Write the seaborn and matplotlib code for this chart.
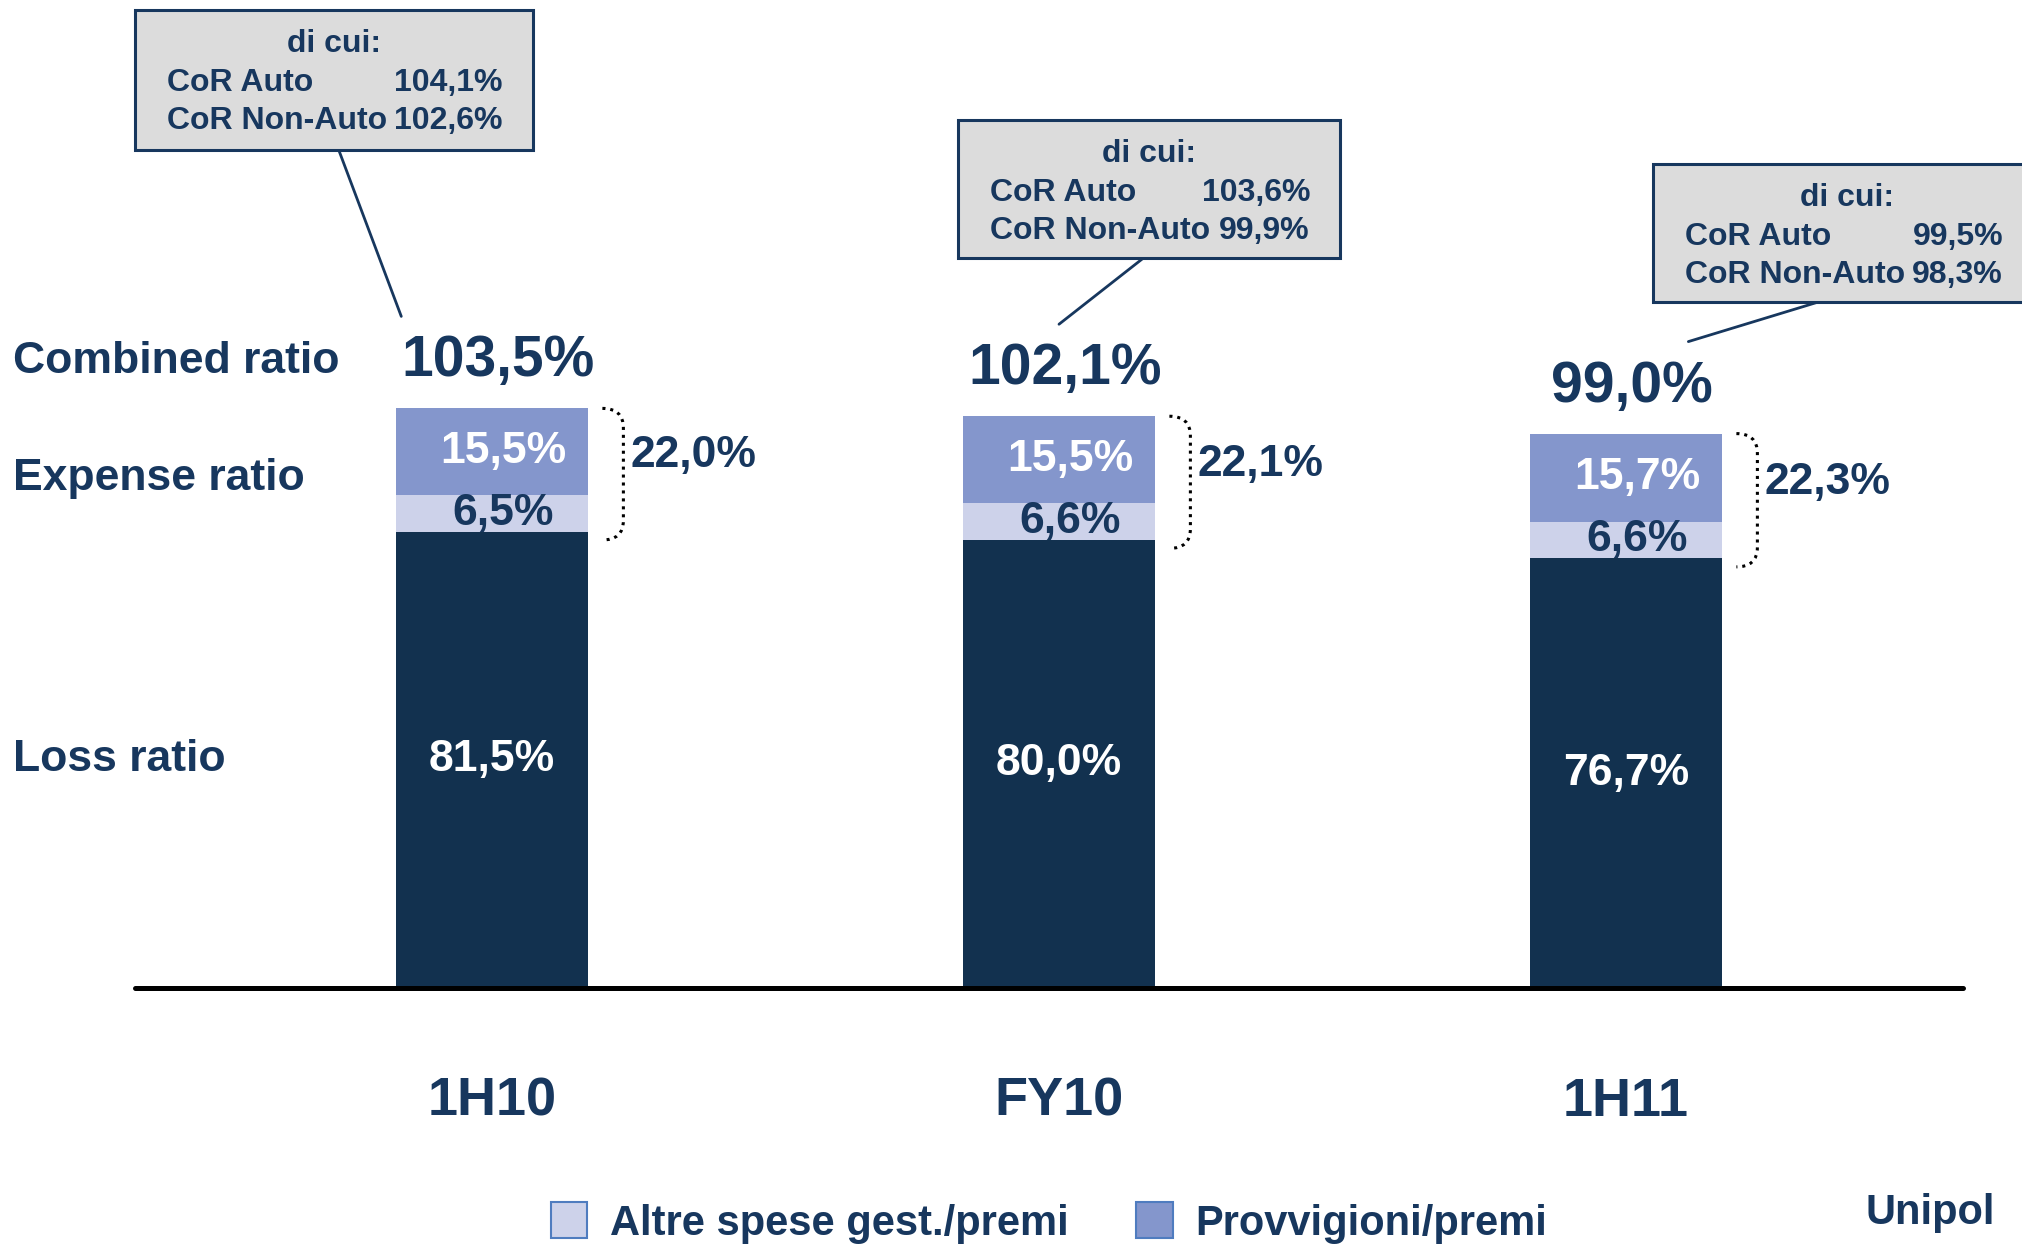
import matplotlib
matplotlib.use("Agg")
import pandas as pd
import matplotlib.pyplot as plt
from matplotlib.patches import Rectangle, Patch, PathPatch
from matplotlib.path import Path
from matplotlib.transforms import Affine2D
import seaborn as sns

# data
periods = ["1H10", "FY10", "1H11"]
loss_ratio = [81.5, 80.0, 76.7]
altre_spese = [6.5, 6.6, 6.6]
provvigioni = [15.5, 15.5, 15.7]
expense_ratio = [22.0, 22.1, 22.3]
combined_ratio = [103.5, 102.1, 99.0]
cor_auto = [104.1, 103.6, 99.5]
cor_non_auto = [102.6, 99.9, 98.3]
legend_labels = ["Altre spese gest./premi", "Provvigioni/premi"]
row_labels = ["Combined ratio", "Expense ratio", "Loss ratio"]

NAVY = "#12314f"
TXT = "#17375e"
PROVV = "#8496cc"
ALTRE = "#cdd2ea"
BOXFILL = "#dcdcdc"

W, H = 2022, 1244
X0, DX = 492, 567      # pixel of first bar centre, pixels per category
BASE, S = 988, 5.6     # baseline pixel, pixels per percentage point


def pct(v):
    return f"{v:.1f}".replace(".", ",") + "%"


def fx(px):
    return (px - X0) / DX


df = pd.DataFrame({"period": periods, "loss": loss_ratio,
                   "altre": altre_spese, "provv": provvigioni})
df["loss_altre"] = df["loss"] + df["altre"]
df["total"] = df["loss_altre"] + df["provv"]

sns.set_theme(style="white")
plt.rcParams["font.family"] = ["Liberation Sans", "DejaVu Sans"]
plt.rcParams["font.weight"] = "bold"

fig = plt.figure(figsize=(W / 100, H / 100), dpi=100)
ax = fig.add_axes([0, 1 - BASE / H, 1, BASE / H])
pxt = Affine2D().scale(1 / W, -1 / H).translate(0, 1) + fig.transFigure

# stacked bars drawn as overlapping cumulative bars
for col, c in [("total", PROVV), ("loss_altre", ALTRE), ("loss", NAVY)]:
    sns.barplot(data=df, x="period", y=col, color=c, width=0.34,
                saturation=1, errorbar=None, ax=ax, edgecolor="none")

ax.set_xlim(fx(0), fx(W))
ax.set_ylim(0, BASE / S)
ax.set_yticks([])
ax.set_xlabel("")
ax.set_ylabel("")
sns.despine(ax=ax, left=True, bottom=True)
ax.set_xticks(range(len(periods)))
ax.set_xticklabels(periods, fontsize=39, color=TXT, fontweight="bold")
ax.tick_params(axis="x", length=0, pad=64)
ax.axhline(0, xmin=135 / W, xmax=1963 / W, color="black", lw=3.6, clip_on=False)

half = 0.17
lab_off = 47 / S
for i in range(len(periods)):
    loss, alt, tot = loss_ratio[i], altre_spese[i], combined_ratio[i]
    ax.text(i, loss / 2, pct(loss), ha="center", va="center",
            color="white", fontsize=32)
    ax.text(i + 0.02, loss + alt / 2, pct(alt), ha="center", va="center",
            color=TXT, fontsize=32)
    ax.text(i + 0.02, loss + alt + provvigioni[i] / 2, pct(provvigioni[i]),
            ha="center", va="center", color="white", fontsize=32)
    ax.text(i + 0.01, tot + lab_off, pct(tot), ha="center", va="center",
            color=TXT, fontsize=41)

    # dotted bracket round the expense ratio
    xs = i + half + 14 / DX
    xv = i + half + 35 / DX
    yt, yb, r = tot, loss - 1.5, 3.5
    verts = [(xs, yt), (xv, yt), (xv, yt - r), (xv, yb + r),
             (xv, yb), (xs, yb)]
    codes = [Path.MOVETO, Path.CURVE3, Path.CURVE3, Path.LINETO,
             Path.CURVE3, Path.CURVE3]
    ax.add_patch(PathPatch(Path(verts, codes), fill=False, ec="black",
                           lw=2.2, ls=(0, (1, 1.6))))
    ax.text(i + half + 42 / DX, loss + expense_ratio[i] / 2 + 2.5,
            pct(expense_ratio[i]), ha="left", va="center",
            color=TXT, fontsize=32)

# row labels aligned with the first bar
ax.text(fx(13), combined_ratio[0] + lab_off, row_labels[0], ha="left",
        va="center", color=TXT, fontsize=32)
ax.text(fx(13), loss_ratio[0] + expense_ratio[0] / 2 - 1.5, row_labels[1],
        ha="left", va="center", color=TXT, fontsize=32)
ax.text(fx(13), loss_ratio[0] / 2, row_labels[2], ha="left",
        va="center", color=TXT, fontsize=32)

# callout boxes: (left, top, width, height, text-centre x, leader start, leader end x offset)
boxes = [
    (135, 10, 398, 140, 334, (338, 148), -0.16),
    (958, 120, 382, 138, 1149, (1146, 256), 0.0),
    (1653, 164, 380, 138, 1847, (1838, 296), 0.11),
]
for i, (bx, by, bw, bh, cx, start, dxe) in enumerate(boxes):
    fig.add_artist(Rectangle((bx, by), bw, bh, transform=pxt, fc=BOXFILL,
                             ec=TXT, lw=2.2))
    fig.text(cx, by + 34, "di cui:", transform=pxt, ha="center",
             va="center", color=TXT, fontsize=23)
    fig.text(bx + 32, by + 73, "CoR Auto", transform=pxt, ha="left",
             va="center", color=TXT, fontsize=23)
    fig.text(bx + bw - 30, by + 73, pct(cor_auto[i]), transform=pxt,
             ha="right", va="center", color=TXT, fontsize=23)
    fig.text(bx + 32, by + 111, "CoR Non-Auto", transform=pxt, ha="left",
             va="center", color=TXT, fontsize=23)
    fig.text(bx + bw - 30, by + 111, pct(cor_non_auto[i]), transform=pxt,
             ha="right", va="center", color=TXT, fontsize=23)
    ax.annotate("", xy=(i + dxe, combined_ratio[i] + lab_off + 45 / S),
                xycoords="data", xytext=start, textcoords=pxt,
                arrowprops=dict(arrowstyle="-", color=TXT, lw=2,
                                shrinkA=0, shrinkB=0))

handles = [Patch(fc=ALTRE, ec="#4f7cbf", lw=1.5),
           Patch(fc=PROVV, ec="#4f7cbf", lw=1.5)]
fig.legend(handles, legend_labels, loc="center left",
           bbox_to_anchor=(551 / W, 1 - 1223 / H), ncol=2, frameon=False,
           fontsize=30, labelcolor=TXT, handlelength=0.87, handleheight=0.93,
           handletextpad=0.55, columnspacing=1.62, borderpad=0,
           borderaxespad=0)

fig.text(1866, 1193, "Unipol", transform=pxt, ha="left", va="top",
         color=TXT, fontsize=30)

fig.savefig("out.png", dpi=100)
